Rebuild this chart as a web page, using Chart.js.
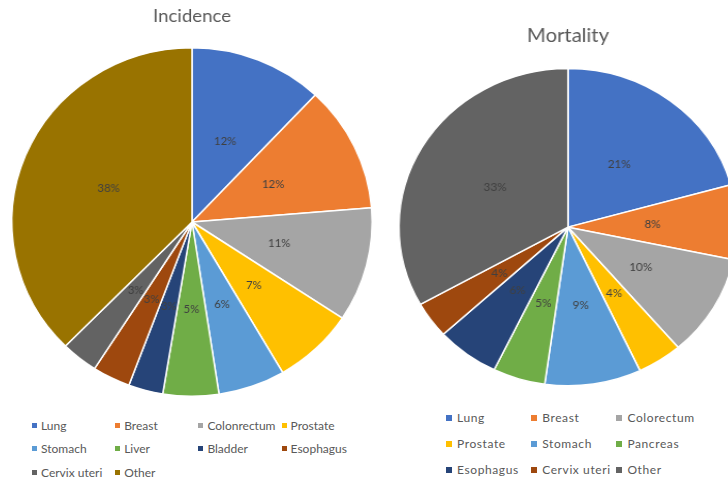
<!DOCTYPE html>
<html>
<head>
<meta charset="utf-8">
<script src="https://cdn.jsdelivr.net/npm/chart.js@4.4.1/dist/chart.umd.min.js"></script>
<style>
  html, body { margin: 0; padding: 0; background: #fff; }
  body { width: 728px; height: 482px; position: relative; overflow: hidden; font-family: Lato, sans-serif; }
  canvas { position: absolute; top: 0; }
  #incidence { left: 0; transform: scaleX(1.034); transform-origin: 192px 0; }
  #mortality { left: 403px; transform: scaleX(1.066); transform-origin: 165px 0; }
  .legend { position: absolute; left: 0; top: 0; color: #595959; font-size: 12px; }
  .legend span { position: absolute; white-space: nowrap; line-height: 14px; }
  .legend i { position: absolute; width: 5px; height: 5px; }
  #mortLegend span { letter-spacing: 0.6px; }
  #mortLegend i { width: 6px; height: 6px; }
</style>
</head>
<body>
<canvas id="incidence" width="384" height="400"></canvas>
<canvas id="mortality" width="330" height="390"></canvas>
<div class="legend" id="incLegend"></div>
<div class="legend" id="mortLegend"></div>
<script>
// incidence shares (%)
var incCategories = ["Lung", "Breast", "Colonrectum", "Prostate", "Stomach", "Liver", "Bladder", "Esophagus", "Cervix uteri", "Other"];
var incValues = [12.0, 11.7, 10.6, 7.3, 6.0, 5.0, 3.1, 3.4, 3.3, 37.6];
var incColors = ["#4472C4", "#ED7D31", "#A5A5A5", "#FFC000", "#5B9BD5", "#70AD47", "#264478", "#9E480E", "#636363", "#997300"];

// mortality shares (%)
var mortCategories = ["Lung", "Breast", "Colorectum", "Prostate", "Stomach", "Pancreas", "Esophagus", "Cervix uteri", "Other"];
var mortValues = [20.7, 7.6, 10.4, 4.3, 9.2, 5.0, 6.0, 3.7, 33.1];
var mortColors = ["#4472C4", "#ED7D31", "#A5A5A5", "#FFC000", "#5B9BD5", "#70AD47", "#264478", "#9E480E", "#636363"];

// percent labels in the middle of each slice
var pctLabels = {
  id: "pctLabels",
  afterDatasetsDraw: function(chart) {
    var ctx = chart.ctx;
    var data = chart.data.datasets[0].data;
    var total = data.reduce(function(a, b) { return a + b; }, 0);
    ctx.save();
    ctx.font = "11px Lato";
    ctx.fillStyle = "#404040";
    ctx.textAlign = "center";
    ctx.textBaseline = "middle";
    chart.getDatasetMeta(0).data.forEach(function(arc, i) {
      var p = arc.getCenterPoint();
      ctx.fillText(Math.round(data[i] / total * 100) + "%", p.x, p.y);
    });
    ctx.restore();
  }
};

function makePie(id, title, labels, values, colors, titlePad, bottomPad, titleSize) {
  return new Chart(document.getElementById(id), {
    type: "pie",
    data: {
      labels: labels,
      datasets: [{ data: values, backgroundColor: colors, borderColor: "#fff", borderWidth: 1.5 }]
    },
    options: {
      responsive: false,
      animation: false,
      devicePixelRatio: 1,
      layout: { padding: { top: 0, left: 0, right: 0, bottom: bottomPad } },
      plugins: {
        legend: { display: false },
        tooltip: { enabled: false },
        title: {
          display: true,
          text: title,
          color: "#595959",
          font: { family: "Lato", size: titleSize, weight: "normal" },
          padding: titlePad
        }
      }
    },
    plugins: [pctLabels]
  });
}

// Excel-style grid legend
function makeLegend(id, labels, colors, cols, x0, dx, y0, dy, markGap) {
  var box = document.getElementById(id);
  labels.forEach(function(name, i) {
    var x = x0 + (i % cols) * dx;
    var y = y0 + Math.floor(i / cols) * dy;
    var mark = document.createElement("i");
    mark.style.background = colors[i];
    mark.style.left = (x - markGap) + "px";
    mark.style.top = (y - 3) + "px";
    var txt = document.createElement("span");
    txt.textContent = name;
    txt.style.left = x + "px";
    txt.style.top = (y - 7) + "px";
    box.appendChild(mark);
    box.appendChild(txt);
  });
}

document.fonts.load("12px Lato").then(function() {
  makePie("incidence", "Incidence", incCategories, incValues, incColors, { top: 5, bottom: 20.4 }, 3, 18);
  makePie("mortality", "Mortality", mortCategories, mortValues, mortColors, { top: 24.6, bottom: 20.4 }, 3.5, 19);
  makeLegend("incLegend", incCategories, incColors, 4, 41, 83.2, 425.5, 23.6, 9);
  makeLegend("mortLegend", mortCategories, mortColors, 3, 457, 85.2, 417.5, 26, 11);
});
</script>
</body>
</html>
